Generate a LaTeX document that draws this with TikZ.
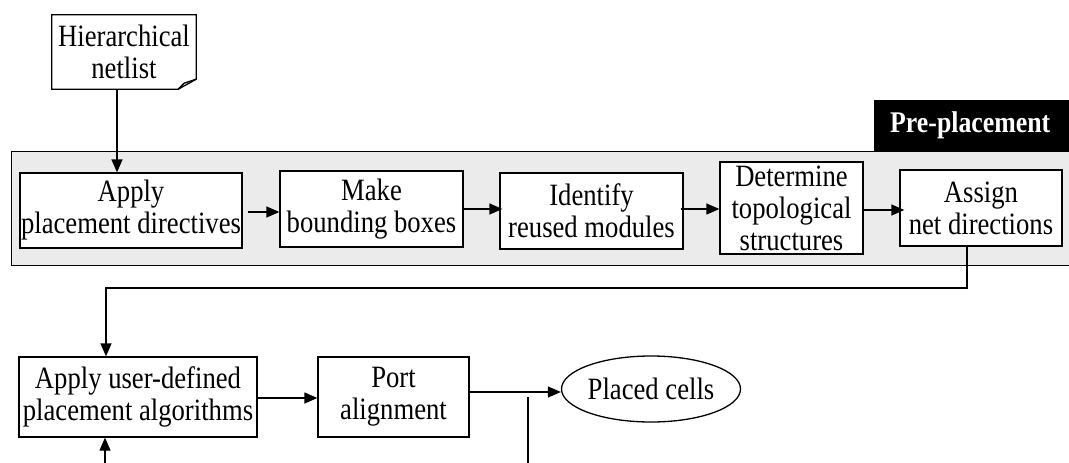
\documentclass[tikz,border=0pt]{standalone}
\usepackage{fontspec}
\setmainfont{Liberation Serif}[FakeStretch=0.86]
\usetikzlibrary{arrows.meta,shapes.geometric}
\definecolor{panelgrey}{HTML}{EBEBEB}

\tikzset{
  stepbox/.style={draw,fill=white,line width=1.3pt,align=center,inner sep=0pt},
  flow/.style={-{Triangle[length=13pt,width=11pt]},line width=1.3pt},
  wire/.style={line width=1.3pt}
}

\begin{document}
\begin{tikzpicture}[x=1pt,y=-1pt,font=\fontsize{31}{32}\selectfont]
\useasboundingbox (0,0) rectangle (1069,463);
% pre-placement panel
\node (pre)[draw,fill=panelgrey,line width=1.3pt,minimum width=1080pt,minimum height=114pt,inner sep=0pt,anchor=north west] at (11,151) {};
\node (tag)[fill=black,text=white,font=\fontsize{30}{30}\selectfont\bfseries,minimum width=200pt,minimum height=51pt,anchor=south west,inner sep=0pt] at (874,151) {\hspace*{-8pt}Pre-placement};
% input netlist
\node (net)[align=center,minimum width=144pt,minimum height=74pt,inner sep=0pt] at (124,52) {Hierarchical\\netlist};
\draw[line width=1.3pt,fill=white] (net.north west) -- (net.north east) -- ([yshift=10pt]net.south east) -- ([xshift=-18pt]net.south east) -- (net.south west) -- cycle;
\draw[line width=1.3pt] ([yshift=10pt]net.south east) -- ([xshift=-12pt,yshift=6pt]net.south east) -- ([xshift=-18pt]net.south east);
\node[align=center] at (net) {Hierarchical\\netlist};
% pre-placement steps
\node (a1)[stepbox,minimum width=222pt,minimum height=75pt] at (131,210.5) {Apply\\placement directives};
\node (a2)[stepbox,minimum width=183pt,minimum height=76pt] at (371.5,209) {Make\\bounding boxes};
\node (a3)[stepbox,minimum width=183pt,minimum height=76pt] at (591.5,211) {Identify\\reused modules};
\node (a4)[stepbox,minimum width=143pt,minimum height=92pt] at (791.5,208) {Determine\\topological\\structures};
\node (a5)[stepbox,minimum width=162pt,minimum height=76pt] at (981,208) {Assign\\net directions};
% placement steps
\node (b1)[stepbox,minimum width=238pt,minimum height=80pt] at (138,397) {Apply user-defined\\placement algorithms};
\node (b2)[stepbox,minimum width=151pt,minimum height=80pt] at (393.5,397) {Port\\alignment};
\node (out)[draw,ellipse,line width=1.3pt,minimum width=176pt,minimum height=66pt,inner sep=0pt] at (651,389) {Placed cells};
% loose ends
\coordinate (back) at (105,463);
\coordinate (loop) at (528,463);
% connectors
\draw[flow] ([xshift=-7pt]net.south) -- ([xshift=-7pt]net.south |- a1.north);
\draw[flow] ([xshift=5pt]a1.east |- 0,212) -- (a2.west |- 0,212);
\draw[flow] (a2.east |- 0,209) -- ([xshift=3pt]a3.west |- 0,209);
\draw[flow] ([xshift=-3pt]a3.east |- 0,209) -- (a4.west |- 0,209);
\draw[flow] (a4.east |- 0,210) -- ([xshift=5pt]a5.west |- 0,210);
\draw[flow] ([xshift=-14pt]a5.south) |- (106,288) -- (106,288 |- b1.north);
\draw[flow] (b1.east |- 0,398) -- (b2.west |- 0,398);
\draw[flow] (b2.east |- 0,392) -- (out.west |- 0,392);
\draw[wire] (loop) -- (528,397);
\draw[flow] (back) -- (back |- b1.south);
\end{tikzpicture}
\end{document}
